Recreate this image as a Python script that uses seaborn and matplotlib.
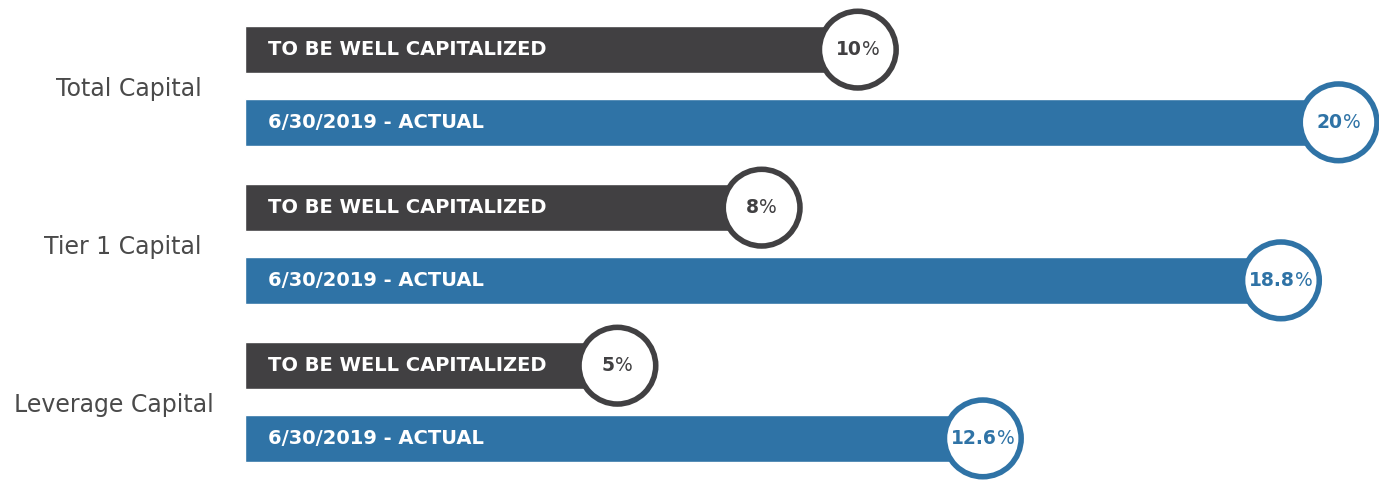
import pandas as pd
import matplotlib.pyplot as plt
import seaborn as sns
from matplotlib.offsetbox import TextArea, HPacker, AnnotationBbox

categories = ['Total Capital', 'Tier 1 Capital', 'Leverage Capital']
well_capitalized = [10, 8, 5]
actual = [20, 18.8, 12.6]
well_labels = ['10', '8', '5']
actual_labels = ['20', '18.8', '12.6']
series_names = ['TO BE WELL CAPITALIZED', '6/30/2019 - ACTUAL']

DARK = '#414042'
BLUE = '#2f73a6'
FONT = 'DejaVu Sans'

sns.set_style('white')
plt.rcParams['font.family'] = [FONT]

fig = plt.figure(figsize=(13.79, 4.82), dpi=100)
ax = fig.add_axes([0, 0, 1, 1])

# bars start a bit left of zero so the label fits inside
lead = 2.75
off = 0.23
h = 0.295

rows = []
for i, cat in enumerate(categories):
    rows.append(dict(cat=cat, y=i - off, val=well_capitalized[i], lab=well_labels[i],
                     series=series_names[0]))
    rows.append(dict(cat=cat, y=i + off, val=actual[i], lab=actual_labels[i],
                     series=series_names[1]))
df = pd.DataFrame(rows)
colors = {series_names[0]: DARK, series_names[1]: BLUE}

for _, r in df.iterrows():
    c = colors[r['series']]
    ax.barh(r['y'], r['val'] + lead, left=-lead, height=h, color=c, zorder=1)
    ax.annotate(r['series'], (-lead, r['y']), xytext=(16.5, 0),
                textcoords='offset points', ha='left', va='center',
                color='white', fontsize=14, fontweight='bold', zorder=3)

sns.scatterplot(data=df, x='val', y='y', hue='series', palette=colors,
                s=3050, facecolor='white', linewidth=4, legend=False,
                ax=ax, zorder=4)
# edge colors per series
coll = ax.collections[-1]
coll.set_facecolor('white')
coll.set_edgecolor([colors[s] for s in df['series']])

for _, r in df.iterrows():
    c = colors[r['series']]
    num = TextArea(r['lab'], textprops=dict(color=c, fontsize=13.5, fontweight='bold'))
    pct = TextArea('%', textprops=dict(color=c, fontsize=13.5))
    box = HPacker(children=[num, pct], align='baseline', pad=0, sep=0)
    ab = AnnotationBbox(box, (r['val'], r['y']), frameon=False,
                        box_alignment=(0.5, 0.5), zorder=5)
    ax.add_artist(ab)

label_x = [-2.75 - 0.9, -2.75 - 0.9, -2.75 - 0.65]
for i, cat in enumerate(categories):
    ax.text(label_x[i], i + 0.02, cat, ha='right', va='center',
            fontsize=17, color='#4a4a4a')

ax.set_xlim(-7.84, 20.84)
ax.set_ylim(2.506, -0.544)
ax.axis('off')

plt.savefig('out.png', dpi=100)
